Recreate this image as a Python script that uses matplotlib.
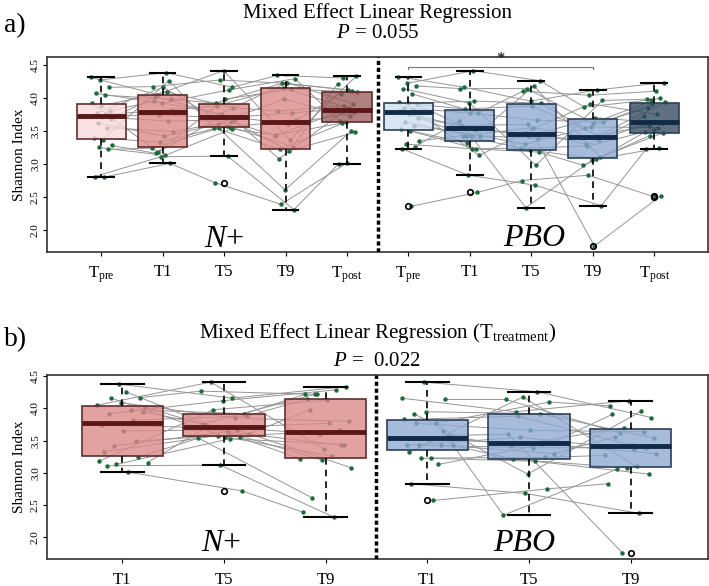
import numpy as np
import matplotlib
matplotlib.use("Agg")
import matplotlib.pyplot as plt
from matplotlib.colors import to_rgb

plt.rcParams['font.family'] = 'Liberation Serif'
plt.rcParams['mathtext.fontset'] = 'custom'
plt.rcParams['mathtext.rm'] = 'Liberation Serif'
plt.rcParams['mathtext.it'] = 'Liberation Serif:italic'

# Shannon index per subject (same subject order in every list)
nplus_pre = [4.31, 4.27, 4.16, 4.07, 4.04, 3.92, 3.88, 3.80, 3.77, 3.75, 3.73, 3.71, 3.68, 3.62, 3.55, 3.40, 3.37, 3.28, 3.25, 3.22, 2.81, 2.80]
nplus_t1 = [4.05, 4.38, 4.17, 3.92, 3.98, 3.18, 4.09, 3.95, 4.16, 3.82, 3.74, 3.65, 4.02, 3.42, 3.49, 3.33, 4.26, 3.16, 3.13, 3.24, 3.11, 3.01]
nplus_t5 = [4.41, 4.16, 4.27, 4.12, 3.92, 3.98, 3.85, 3.76, 3.56, 3.88, 3.70, 3.67, 3.74, 3.64, 3.61, 3.58, 3.55, 3.72, 3.53, 3.54, 3.12, 2.72]
nplus_t9 = [3.37, 4.34, 4.22, 4.29, 4.22, 4.13, 3.80, 4.23, 3.66, 4.15, 3.77, 3.08, 3.60, 3.43, 3.98, 3.26, 3.22, 3.20, 3.44, 2.61, 2.31, 2.39]
nplus_post = [4.33, 4.30, 4.11, 3.65, 4.12, 4.09, 3.88, 3.91, 4.06, 3.84, 3.83, 3.81, 3.78, 3.80, 3.72, 4.21, 3.64, 3.48, 3.62, 3.50, 3.00, 3.02]

pbo_pre = [4.32, 4.22, 4.18, 4.14, 4.06, 3.93, 3.92, 3.90, 3.85, 3.82, 3.80, 3.76, 3.70, 3.64, 3.58, 3.53, 3.50, 3.35, 3.30, 3.26, 3.23, 2.36]
pbo_t1 = [4.16, 4.41, 4.14, 3.92, 3.77, 3.83, 3.95, 3.58, 3.77, 3.13, 3.43, 3.52, 3.57, 3.43, 3.43, 3.32, 3.23, 3.43, 3.23, 3.65, 2.83, 2.57]
pbo_t5 = [3.95, 4.26, 4.14, 2.98, 4.10, 3.88, 3.92, 3.60, 3.66, 3.47, 3.55, 3.45, 3.42, 3.39, 3.30, 4.18, 3.24, 3.21, 3.18, 2.34, 2.68, 2.75]
pbo_t9 = [4.12, 3.86, 3.62, 3.96, 4.04, 3.43, 3.54, 1.76, 3.64, 3.91, 3.37, 3.30, 3.70, 3.39, 3.56, 3.10, 3.27, 3.08, 2.98, 3.06, 2.37, 2.83]
pbo_post = [4.23, 3.97, 4.00, 3.98, 4.10, 3.93, 3.90, 2.52, 3.85, 3.75, 3.72, 3.64, 3.62, 3.58, 3.55, 3.48, 3.52, 3.47, 3.43, 3.24, 3.22, 2.50]

labels_a = [r"T$_{\mathrm{pre}}$", "T1", "T5", "T9", r"T$_{\mathrm{post}}$"]
labels_b = ["T1", "T5", "T9"]

# colours as they look on white; boxes are drawn semi transparent over the dots
red_look = ['#fbe3e3', '#e4a2a2', '#e4a2a2', '#e4a2a2', '#b18080']
blue_look = ['#dae5f3', '#a6bcda', '#a6bcda', '#a6bcda', '#607083']
ALPHA = 0.78


def base_col(c):
    c = np.array(to_rgb(c))
    return tuple(np.clip((c - (1 - ALPHA)) / ALPHA, 0, 1)) + (ALPHA,)


def draw_group(ax, series, pos, looks, edge, med, jit):
    n = len(series[0])
    xs = []
    for t in range(len(series)):
        off = np.array([((i * 9 + t * 5) % n) / (n - 1) - 0.5 for i in range(n)]) * 2 * jit
        xs.append(pos[t] + off)
    xs = np.array(xs)
    ys = np.array(series)
    for i in range(n):
        ax.plot(xs[:, i], ys[:, i], color='#959595', lw=0.7, zorder=1)
    for t in range(len(series)):
        ax.plot(xs[t], ys[t], 'o', color='#1f6a3c', ms=3.2, mec='none', zorder=2)
    bp = ax.boxplot(series, positions=pos, widths=0.8, patch_artist=True, whis=1.5,
                    capwidths=0.42, manage_ticks=False, zorder=3,
                    boxprops=dict(edgecolor=edge, lw=1.2),
                    medianprops=dict(color=med, lw=3.5, solid_capstyle='butt'),
                    whiskerprops=dict(color='black', lw=1.2, linestyle=(0, (4, 3))),
                    capprops=dict(color='black', lw=1.5),
                    flierprops=dict(marker='o', mfc='none', mec='black', ms=4, mew=1.2))
    for b, c in zip(bp['boxes'], looks):
        b.set_facecolor(base_col(c))


def style_axes(ax, ylim, xlim, pos, labels):
    ax.set_ylim(*ylim)
    ax.set_xlim(*xlim)
    ax.set_yticks([2.0, 2.5, 3.0, 3.5, 4.0, 4.5])
    ax.set_yticklabels(['2.0', '2.5', '3.0', '3.5', '4.0', '4.5'], rotation=90, va='center', fontsize=8)
    ax.set_xticks(pos)
    ax.set_xticklabels(labels, fontsize=12)
    ax.tick_params(axis='x', length=3, pad=6)
    ax.tick_params(axis='y', length=3, pad=2)
    ax.set_ylabel("Shannon Index", fontsize=11, labelpad=4)
    for s in ax.spines.values():
        s.set_color('#333333')
        s.set_linewidth(1.2)


fig = plt.figure(figsize=(7.09, 5.86), dpi=100)

# panel a
ax1 = fig.add_axes([0.0663, 0.570, 0.932, 0.333])
pos_n = [1, 2, 3, 4, 5]
pos_p = [6, 7, 8, 9, 10]
draw_group(ax1, [nplus_pre, nplus_t1, nplus_t5, nplus_t9, nplus_post], pos_n,
           red_look, '#5e2e2e', '#5b1717', 0.17)
draw_group(ax1, [pbo_pre, pbo_t1, pbo_t5, pbo_t9, pbo_post], pos_p,
           blue_look, '#2d3f57', '#112a47', 0.17)
ax1.axvline(5.5, color='black', lw=2.5, linestyle=(0, (1.2, 0.8)), zorder=4)
ax1.plot([6, 6, 9, 9], [4.43, 4.46, 4.46, 4.43], color='#777777', lw=0.8, zorder=4)
ax1.text(7.5, 4.465, '*', ha='center', va='bottom', fontsize=12)
ax1.text(3, 1.86, r"$N$+", ha='center', va='center', fontsize=23, zorder=5)
ax1.text(8.05, 1.88, "PBO", ha='center', va='center', fontsize=23, style='italic', zorder=5)
style_axes(ax1, (1.67, 4.62), (0.12, 10.87), pos_n + pos_p, labels_a + labels_a)

# panel b
ax2 = fig.add_axes([0.0663, 0.046, 0.932, 0.314])
pb_n = [1, 2, 3]
pb_p = [4, 5, 6]
draw_group(ax2, [nplus_t1, nplus_t5, nplus_t9], pb_n,
           red_look[1:4], '#5e2e2e', '#5b1717', 0.25)
draw_group(ax2, [pbo_t1, pbo_t5, pbo_t9], pb_p,
           blue_look[1:4], '#2d3f57', '#112a47', 0.25)
ax2.axvline(3.5, color='black', lw=2.5, linestyle=(0, (1.2, 0.8)), zorder=4)
ax2.text(1.97, 1.90, r"$N$+", ha='center', va='center', fontsize=23, zorder=5)
ax2.text(4.95, 1.90, "PBO", ha='center', va='center', fontsize=23, style='italic', zorder=5)
style_axes(ax2, (1.66, 4.52), (0.26, 6.76), pb_n + pb_p, labels_b + labels_b)

# titles and panel letters
fig.text(0.532, 0.978, "Mixed Effect Linear Regression", ha='center', va='center', fontsize=15)
fig.text(0.532, 0.942, r"$P$ = 0.055", ha='center', va='center', fontsize=15)
fig.text(0.005, 0.956, "a)", ha='left', va='center', fontsize=20)
fig.text(0.532, 0.432, r"Mixed Effect Linear Regression (T$_{\mathrm{treatment}}$)", ha='center', va='center', fontsize=15)
fig.text(0.532, 0.383, r"$P$ =  0.022", ha='center', va='center', fontsize=15)
fig.text(0.005, 0.420, "b)", ha='left', va='center', fontsize=20)

fig.savefig("out.png", dpi=100)
